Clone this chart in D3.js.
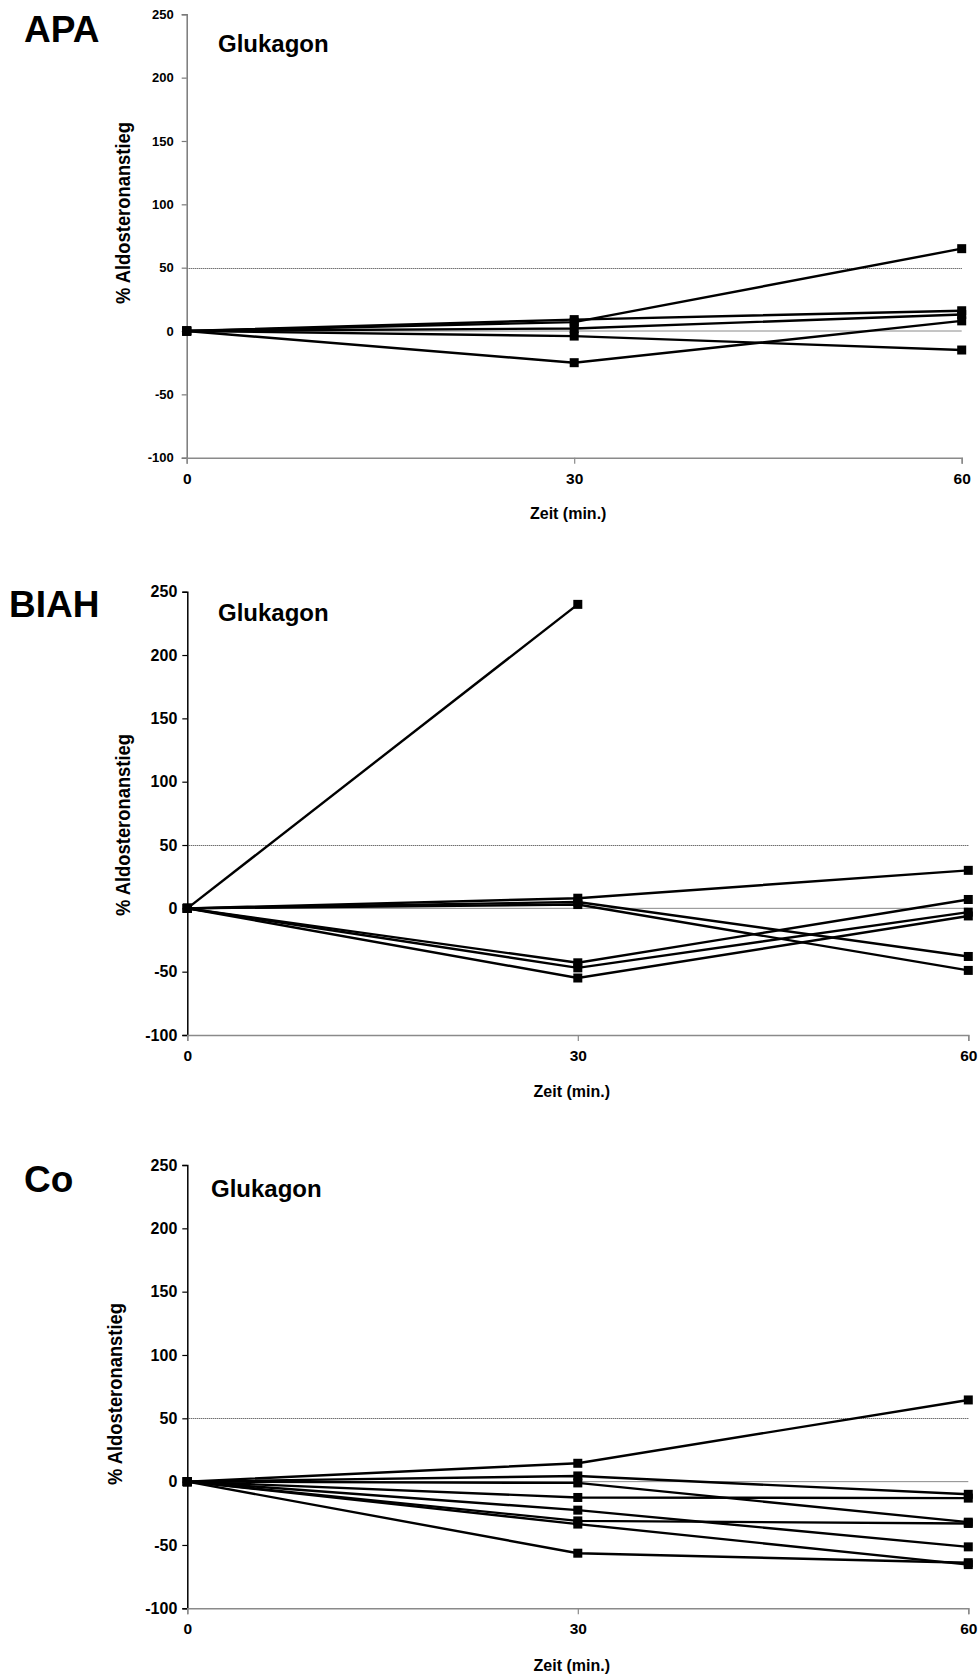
<!DOCTYPE html>
<html>
<head>
<meta charset="utf-8">
<title>Glukagon</title>
<script src="https://cdn.jsdelivr.net/npm/d3@7"></script>
<style>
  body { margin: 0; background: #fff; }
  text { font-family: "Liberation Sans", Arial, sans-serif; font-weight: bold; fill: #000; }
</style>
</head>
<body>
<script>
// time points (min.) and y-axis ticks
var times = [0, 30, 60];
var yTicks = [-100, -50, 0, 50, 100, 150, 200, 250];
var stimulus = "Glukagon";
var xTitle = "Zeit (min.)";
var yTitle = "% Aldosteronanstieg";

// % rise of aldosterone, one row per patient at 0 / 30 / 60 min
var apaValues = [
  [0, 7, 65],
  [0, 9, 16],
  [0, 2, 13],
  [0, -4, -15],
  [0, -25, 8]
];
var biahValues = [
  [0, 240, null],
  [0, 8, 30],
  [0, 5, -38],
  [0, 3, -49],
  [0, -43, 7],
  [0, -47, -3],
  [0, -55, -6]
];
var coValues = [
  [0, 14.5, 64.5],
  [0, 4.5, -10],
  [0, -1, -32],
  [0, -12.5, -13],
  [0, -22.5, -51.5],
  [0, -31, -33],
  [0, -33.5, -65.5],
  [0, -56.5, -64]
];

// layout of the three stacked panels
var panels = [
  { name: "APA",  values: apaValues,  x0: 186.7, x1: 961.7, yTop: 14.3,  yBot: 457.7,
    axisColor: "#7a7a7a", yFont: 13, yGap: 13, letter: [24, 42], glu: [218, 52], title: [124, 213], zeitDy: 61 },
  { name: "BIAH", values: biahValues, x0: 187.3, x1: 968.3, yTop: 591.7, yBot: 1035,
    axisColor: "#000", yFont: 16, yGap: 10, letter: [9, 617], glu: [218, 621], title: [124, 825], zeitDy: 62 },
  { name: "Co",   values: coValues,   x0: 187.3, x1: 968.3, yTop: 1165,  yBot: 1608.3,
    axisColor: "#000", yFont: 16, yGap: 10, letter: [24, 1192], glu: [211, 1197], title: [116, 1394], zeitDy: 63 }
];

// plain hyphen for negatives, like the original
var fmt = function(d) { return String(d); };

var svg = d3.select("body").append("svg")
  .attr("width", 978)
  .attr("height", 1677);

panels.forEach(function(p) {
  var x = d3.scaleLinear().domain([0, 60]).range([p.x0, p.x1]);
  var y = d3.scaleLinear().domain([-100, 250]).range([p.yBot, p.yTop]);
  var g = svg.append("g");

  // reference lines at 0 and 50
  g.append("line")
    .attr("x1", x(0)).attr("x2", x(60))
    .attr("y1", y(0)).attr("y2", y(0))
    .attr("stroke", "#8a8a8a").attr("stroke-width", 1);
  g.append("line")
    .attr("x1", x(0)).attr("x2", x(60))
    .attr("y1", Math.round(y(50)) + 0.5).attr("y2", Math.round(y(50)) + 0.5)
    .attr("stroke", "#333").attr("stroke-width", 1)
    .attr("stroke-dasharray", "1,1");

  // y axis
  var yAxis = g.append("g")
    .attr("transform", "translate(" + x(0) + ",0)")
    .call(d3.axisLeft(y).tickValues(yTicks).tickFormat(fmt).tickSize(5).tickPadding(p.yGap - 5));
  yAxis.select(".domain").attr("stroke", p.axisColor).attr("stroke-width", 1.5);
  yAxis.selectAll(".tick line").attr("stroke", p.axisColor).attr("stroke-width", 1.2);
  yAxis.selectAll(".tick text")
    .style("font-size", p.yFont + "px")
    .attr("fill", "#000");

  // x axis at the bottom
  var xAxis = g.append("g")
    .attr("transform", "translate(0," + y(-100) + ")")
    .call(d3.axisBottom(x).tickValues(times).tickFormat(fmt).tickSize(6).tickPadding(9));
  xAxis.select(".domain").attr("stroke", "#8a8a8a").attr("stroke-width", 1.5);
  xAxis.selectAll(".tick line").attr("stroke", "#8a8a8a").attr("stroke-width", 1.2);
  xAxis.selectAll(".tick text")
    .style("font-size", "15.5px")
    .attr("fill", "#000");

  // labels
  g.append("text")
    .attr("x", x(30) - 6)
    .attr("y", y(-100) + p.zeitDy)
    .attr("text-anchor", "middle")
    .style("font-size", "16px")
    .text(xTitle);

  g.append("text")
    .attr("transform", "translate(" + (p.title[0] + 6) + "," + p.title[1] + ") rotate(-90)")
    .attr("text-anchor", "middle")
    .attr("textLength", 182)
    .attr("lengthAdjust", "spacingAndGlyphs")
    .style("font-size", "20px")
    .text(yTitle);

  g.append("text")
    .attr("x", p.letter[0]).attr("y", p.letter[1])
    .style("font-size", "37px")
    .text(p.name);

  g.append("text")
    .attr("x", p.glu[0]).attr("y", p.glu[1])
    .style("font-size", "24px")
    .text(stimulus);

  // one line per patient
  var line = d3.line()
    .defined(function(d) { return d != null; })
    .x(function(d, i) { return x(times[i]); })
    .y(function(d) { return y(d); });

  g.selectAll("path.series")
    .data(p.values)
    .enter().append("path")
      .attr("class", "series")
      .attr("d", line)
      .attr("fill", "none")
      .attr("stroke", "#000")
      .attr("stroke-width", 2.4);

  var pts = [];
  p.values.forEach(function(row) {
    row.forEach(function(v, i) { if (v != null) pts.push({t: times[i], v: v}); });
  });

  g.selectAll("rect.marker")
    .data(pts)
    .enter().append("rect")
      .attr("class", "marker")
      .attr("x", function(d) { return x(d.t) - 4.5; })
      .attr("y", function(d) { return y(d.v) - 4.5; })
      .attr("width", 9)
      .attr("height", 9)
      .attr("fill", "#000");
});
</script>
</body>
</html>
